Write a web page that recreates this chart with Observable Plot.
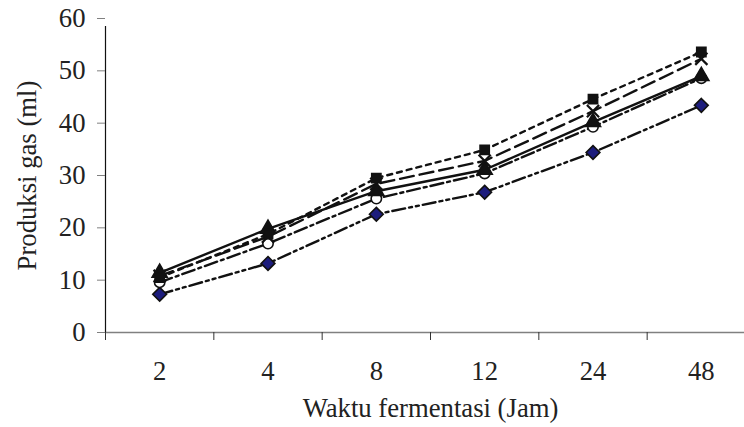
<!DOCTYPE html>
<html>
<head>
<meta charset="utf-8">
<script src="https://cdn.jsdelivr.net/npm/d3@7"></script>
<script src="https://cdn.jsdelivr.net/npm/@observablehq/plot@0.6"></script>
<style>
  html, body { margin: 0; padding: 0; background: #fff; overflow: hidden; }
</style>
</head>
<body>
<div id="chart"></div>
<script>
const times = ["2", "4", "8", "12", "24", "48"];
const yTicks = [0, 10, 20, 30, 40, 50, 60];
const diamondVals  = [7.3, 13.2, 22.6, 26.8, 34.4, 43.4];
const circleVals   = [9.6, 17.0, 25.6, 30.4, 39.3, 48.6];
const triangleVals = [11.4, 19.8, 27.0, 31.1, 40.2, 49.0];
const crossVals    = [10.8, 18.3, 28.4, 32.8, 42.3, 52.3];
const squareVals   = [10.5, 18.8, 29.5, 34.9, 44.6, 53.6];

const series = [
  {name: "diamond",  values: diamondVals,  dash: "13,4,3,4,3,4", symbol: "diamond2", fill: "#1c1c7c", r: 6.2},
  {name: "circle",   values: circleVals,   dash: "13,4,3,4",     symbol: "circle",   fill: "#ffffff", r: 5.2},
  {name: "triangle", values: triangleVals, dash: null,           symbol: "triangle", fill: "#111",    r: 5.6},
  {name: "cross",    values: crossVals,    dash: "14,6",         symbol: "times",    fill: "none",    r: 5.6},
  {name: "square",   values: squareVals,   dash: "5,5",          symbol: "square",   fill: "#111",    r: 5.2}
];

const rows = s => s.values.map((v, i) => ({i: i + 0.5, v, t: times[i]}));
const fs = 26.7;
const font = "Liberation Serif, Times New Roman, serif";

const marks = [];
marks.push(Plot.ruleY([0], {stroke: "#808080", strokeWidth: 1.6}));
marks.push(Plot.ruleX([0], {y1: 0, y2: 60, stroke: "#111", strokeWidth: 1.2, insetBottom: -8}));
marks.push(Plot.axisY(yTicks, {tickSize: 8, tickPadding: 12, stroke: "#808080", fill: "#222", fontSize: fs, fontFamily: font, label: null}));
marks.push(Plot.axisX(d3.range(0, 7), {tickSize: 8, tickFormat: () => "", stroke: "#333", label: null}));
marks.push(Plot.axisX(times.map((t, i) => i + 0.5), {tickSize: 0, tickPadding: 29, tickFormat: d => times[Math.floor(d)], fill: "#222", fontSize: fs, fontFamily: font, label: null}));
for (const s of series) {
  marks.push(Plot.line(rows(s), {x: "i", y: "v", stroke: "#111", strokeWidth: 2.4, strokeDasharray: s.dash, curve: "linear"}));
}
for (const s of series) {
  marks.push(Plot.dot(rows(s), {x: "i", y: "v", symbol: () => s.symbol, r: s.r, fill: s.fill, stroke: "#111", strokeWidth: s.symbol === "times" ? 2.2 : 1.6}));
}
marks.push(Plot.text(["Produksi gas (ml)"], {frameAnchor: "left", textAnchor: "middle", rotate: -90, dx: -78, fontSize: fs, fontFamily: font, fill: "#222"}));
marks.push(Plot.text(["Waktu fermentasi (Jam)"], {frameAnchor: "bottom", textAnchor: "middle", dx: 5.5, dy: 84, fontSize: fs, fontFamily: font, fill: "#222"}));

const chart = Plot.plot({
  width: 744,
  height: 427,
  marginLeft: 105,
  marginRight: 0,
  marginTop: 18,
  marginBottom: 95,
  style: {fontFamily: font, fontSize: fs + "px", color: "#222", background: "#fff", overflow: "hidden"},
  x: {domain: [0, 6], range: [105, 755], axis: null},
  y: {domain: [0, 60], axis: null},
  symbol: {type: "identity"},
  marks
});
document.getElementById("chart").appendChild(chart);
</script>
</body>
</html>
